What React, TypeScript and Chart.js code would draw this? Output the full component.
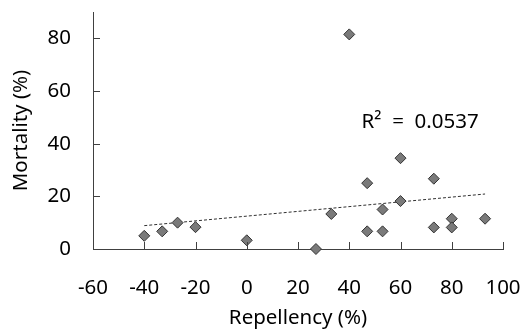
import React, { useEffect, useRef } from "react";
import { Chart, registerables } from "chart.js";

Chart.register(...registerables);

const repellency = [-40, -33, -27, -20, 0, 27, 33, 40, 47, 47, 53, 53, 60, 60, 73, 73, 80, 80, 93];
const mortality = [5, 6.7, 10, 8.3, 3.3, 0, 13.3, 81.5, 25, 6.7, 15, 6.7, 34.5, 18.2, 26.7, 8.2, 11.5, 8.2, 11.5];
const xTicks = [-60, -40, -20, 0, 20, 40, 60, 80, 100];
const yTicks = [0, 20, 40, 60, 80];
const r2Label = "R²  =  0.0537";
const r2Anchor = { x: 44.8, y: 48 };

const FONT = "'Noto Sans', sans-serif";
const FS = 20.5;
const AXIS_COLOR = "#404040";

function regression(xs: number[], ys: number[]) {
  const n = xs.length;
  const mx = xs.reduce((a, b) => a + b, 0) / n;
  const my = ys.reduce((a, b) => a + b, 0) / n;
  let sxy = 0, sxx = 0;
  for (let i = 0; i < n; i++) {
    sxy += (xs[i] - mx) * (ys[i] - my);
    sxx += (xs[i] - mx) ** 2;
  }
  const slope = sxy / sxx;
  return { slope, intercept: my - slope * mx };
}

const innerTicks = {
  id: "innerTicks",
  afterDatasetsDraw(chart: any) {
    const { ctx, chartArea, scales } = chart;
    ctx.save();
    ctx.strokeStyle = AXIS_COLOR;
    ctx.lineWidth = 1;
    ctx.beginPath();
    xTicks.forEach((v) => {
      const px = Math.round(scales.x.getPixelForValue(v)) + 0.5;
      ctx.moveTo(px, chartArea.bottom);
      ctx.lineTo(px, chartArea.bottom - 7);
    });
    yTicks.forEach((v) => {
      const py = Math.round(scales.y.getPixelForValue(v)) + 0.5;
      ctx.moveTo(chartArea.left, py);
      ctx.lineTo(chartArea.left + 7, py);
    });
    ctx.stroke();
    ctx.fillStyle = "#000";
    ctx.font = `${FS}px ${FONT}`;
    ctx.textAlign = "left";
    ctx.textBaseline = "middle";
    ctx.fillText(r2Label, scales.x.getPixelForValue(r2Anchor.x), scales.y.getPixelForValue(r2Anchor.y));
    ctx.restore();
  },
};

export default function App() {
  const ref = useRef<HTMLCanvasElement>(null);
  useEffect(() => {
    const { slope, intercept } = regression(repellency, mortality);
    const xMin = Math.min(...repellency);
    const xMax = Math.max(...repellency);
    const chart = new Chart(ref.current!, {
      type: "scatter",
      data: {
        datasets: [
          {
            label: "points",
            data: repellency.map((x, i) => ({ x, y: mortality[i] })),
            pointStyle: "rectRot",
            pointRadius: 5.5,
            backgroundColor: "#7a7a7a",
            borderColor: "#333333",
            borderWidth: 1,
            clip: false,
            order: 1,
          },
          {
            type: "line",
            label: "trend",
            data: [
              { x: xMin, y: intercept + slope * xMin },
              { x: xMax, y: intercept + slope * xMax },
            ],
            borderColor: "#303030",
            borderWidth: 1,
            borderDash: [3, 2],
            pointRadius: 0,
            fill: false,
            order: 2,
          } as any,
        ],
      },
      options: {
        animation: false,
        responsive: false,
        layout: { padding: { top: 12, right: 19, left: 0, bottom: 0 } },
        plugins: { legend: { display: false }, tooltip: { enabled: false } },
        scales: {
          x: {
            type: "linear",
            min: -60,
            max: 100,
            afterBuildTicks: (s: any) => { s.ticks = xTicks.map((v) => ({ value: v })); },
            afterFit: (s: any) => { s.height = 82; s.paddingLeft = 0; s.paddingRight = 0; },
            grid: { display: false, drawTicks: false },
            border: { display: true, color: AXIS_COLOR, width: 1 },
            ticks: { color: "#000", font: { family: FONT, size: FS }, padding: 27, maxRotation: 0 },
            title: { display: true, text: "Repellency (%)", color: "#000", font: { family: FONT, size: FS }, padding: { top: 0, bottom: 1 } },
          },
          y: {
            type: "linear",
            min: 0,
            max: 90,
            afterBuildTicks: (s: any) => { s.ticks = yTicks.map((v) => ({ value: v })); },
            afterFit: (s: any) => { s.width = 93; s.paddingTop = 0; s.paddingBottom = 0; },
            grid: { display: false, drawTicks: false },
            border: { display: true, color: AXIS_COLOR, width: 1 },
            ticks: { color: "#000", font: { family: FONT, size: FS }, padding: 22 },
            title: { display: true, text: "Mortality (%)", color: "#000", font: { family: FONT, size: FS }, padding: { top: 9, bottom: 0 } },
          },
        },
      },
      plugins: [innerTicks],
    });
    return () => chart.destroy();
  }, []);
  return (
    <div style={{ position: "fixed", left: 0, top: 0, width: 522, height: 331, background: "#fff" }}>
      <canvas ref={ref} width={522} height={331} />
    </div>
  );
}
